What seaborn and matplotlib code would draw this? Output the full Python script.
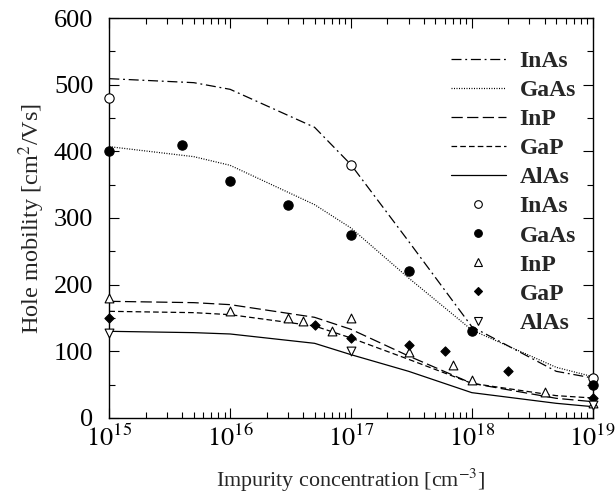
import numpy as np
import pandas as pd
import matplotlib
matplotlib.use("Agg")
import matplotlib.pyplot as plt
import seaborn as sns
from matplotlib.lines import Line2D
from matplotlib.legend_handler import HandlerLine2D
from matplotlib.ticker import LogLocator, MultipleLocator, FixedLocator, NullFormatter

# ---- data ----
materials = ["InAs", "GaAs", "InP", "GaP", "AlAs"]
line_conc = [1e15, 5e15, 1e16, 5e16, 1e17, 3e17, 1e18, 5e18, 1e19]
line_InAs = [509, 503, 493, 436, 380, 265, 137, 70, 60]
line_GaAs = [407, 392, 379, 320, 285, 210, 132, 76, 62]
line_InP = [175, 173, 170, 151, 133, 93, 52, 29.5, 24.5]
line_GaP = [160, 158, 155, 138, 120, 88, 52, 33.5, 30]
line_AlAs = [130, 128, 126, 112, 95, 70, 38, 22, 17]

exp_InAs_x = [1e15, 1e17, 1e19]
exp_InAs_y = [480, 380, 60]
exp_GaAs_x = [1e15, 4e15, 1e16, 3e16, 1e17, 3e17, 1e18, 1e19]
exp_GaAs_y = [400, 410, 355, 320, 275, 220, 130, 50]
exp_InP_x = [1e15, 1e16, 3e16, 4e16, 7e16, 1e17, 3e17, 7e17, 1e18, 4e18, 1e19]
exp_InP_y = [180, 160, 150, 145, 130, 150, 99, 79, 57, 39, 22]
exp_GaP_x = [1e15, 5e16, 1e17, 3e17, 6e17, 2e18, 1e19]
exp_GaP_y = [150, 140, 120, 110, 100, 70, 30]
exp_AlAs_x = [1e15, 1e17, 1e19]
exp_AlAs_y = [127, 100, 20]

xtick_labels = ["$10^{15}$", "$10^{16}$", "$10^{17}$", "$10^{18}$", "$10^{19}$"]
xlabel = "Impurity concentration [cm$^{-3}$]"
ylabel = "Hole mobility [cm$^2$/Vs]"

# ---- style ----
sns.set_theme(style="ticks")
plt.rcParams["font.family"] = ["Liberation Serif", "DejaVu Serif"]
plt.rcParams["mathtext.fontset"] = "stix"

fig = plt.figure(figsize=(6.16, 4.96), dpi=100)
ax = fig.add_axes([0.1775, 0.1573, 0.7845, 0.8064])

line_styles = {
    "InAs": (0, (8, 3, 1.5, 3)),
    "GaAs": (0, (0.8, 1.2)),
    "InP": (0, (9, 3.5)),
    "GaP": (0, (4.5, 2.5)),
    "AlAs": "-",
}
line_data = {"InAs": line_InAs, "GaAs": line_GaAs, "InP": line_InP,
             "GaP": line_GaP, "AlAs": line_AlAs}
for m in materials:
    df = pd.DataFrame({"x": line_conc, "y": line_data[m]})
    sns.lineplot(data=df, x="x", y="y", ax=ax, color="black", linewidth=0.9,
                 linestyle=line_styles[m], legend=False)

exp = {
    "InAs": (exp_InAs_x, exp_InAs_y, "o", "white", 45),
    "GaAs": (exp_GaAs_x, exp_GaAs_y, "o", "black", 45),
    "InP": (exp_InP_x, exp_InP_y, "^", "white", 40),
    "GaP": (exp_GaP_x, exp_GaP_y, "D", "black", 22),
    "AlAs": (exp_AlAs_x, exp_AlAs_y, "v", "white", 40),
}
for m in materials:
    xs, ys, mk, fc, s = exp[m]
    df = pd.DataFrame({"x": xs, "y": ys})
    sns.scatterplot(data=df, x="x", y="y", ax=ax, marker=mk, s=s,
                    facecolor=fc, edgecolor="black", linewidth=0.8,
                    clip_on=False, zorder=5, legend=False)

ax.set_xscale("log")
ax.set_xlim(1e15, 1e19)
ax.set_ylim(0, 600)
ax.xaxis.set_major_locator(FixedLocator([1e15, 1e16, 1e17, 1e18, 1e19]))
ax.set_xticklabels(xtick_labels)
ax.xaxis.set_minor_locator(LogLocator(base=10, subs=np.arange(2, 10), numticks=20))
ax.xaxis.set_minor_formatter(NullFormatter())
ax.yaxis.set_major_locator(MultipleLocator(100))
ax.yaxis.set_minor_locator(MultipleLocator(50))
ax.tick_params(which="both", direction="in", top=True, right=True, colors="black",
               width=0.8)
ax.tick_params(which="major", length=7, labelsize=19)
ax.tick_params(which="minor", length=4)
ax.tick_params(axis="y", which="major", pad=11.5)
ax.tick_params(axis="x", which="major", pad=5)
for sp in ax.spines.values():
    sp.set_linewidth(1.0)
    sp.set_color("black")
ax.set_xlabel(xlabel, fontsize=15.8, labelpad=11)
ax.set_ylabel(ylabel, fontsize=17.5, labelpad=5)


class RightMarkerHandler(HandlerLine2D):
    def get_xdata(self, legend, xdescent, ydescent, width, height, fontsize):
        xdata = np.array([-xdescent, -xdescent + width])
        xm = np.array([-xdescent + width - 2.0])
        return xdata, xm


handles = []
labels = []
for m in materials:
    handles.append(Line2D([], [], color="black", linewidth=0.9, linestyle=line_styles[m]))
    labels.append(m)
mk_sizes = {"o": 5.5, "^": 6, "D": 4.5, "v": 6}
for m in materials:
    xs, ys, mk, fc, s = exp[m]
    handles.append(Line2D([], [], color="black", linestyle="none", marker=mk,
                          markersize=mk_sizes[mk], markerfacecolor=fc,
                          markeredgecolor="black", markeredgewidth=0.8))
    labels.append(m)

hmap = {h: RightMarkerHandler(numpoints=1) for h in handles}
leg = ax.legend(handles, labels, loc="upper right", bbox_to_anchor=(1.0, 0.96),
                frameon=False, prop={"weight": "bold", "size": 17},
                handlelength=2.33, handletextpad=0.6, labelspacing=0.32,
                handler_map=hmap, borderaxespad=0.3)

fig.savefig("out.png", dpi=100)
